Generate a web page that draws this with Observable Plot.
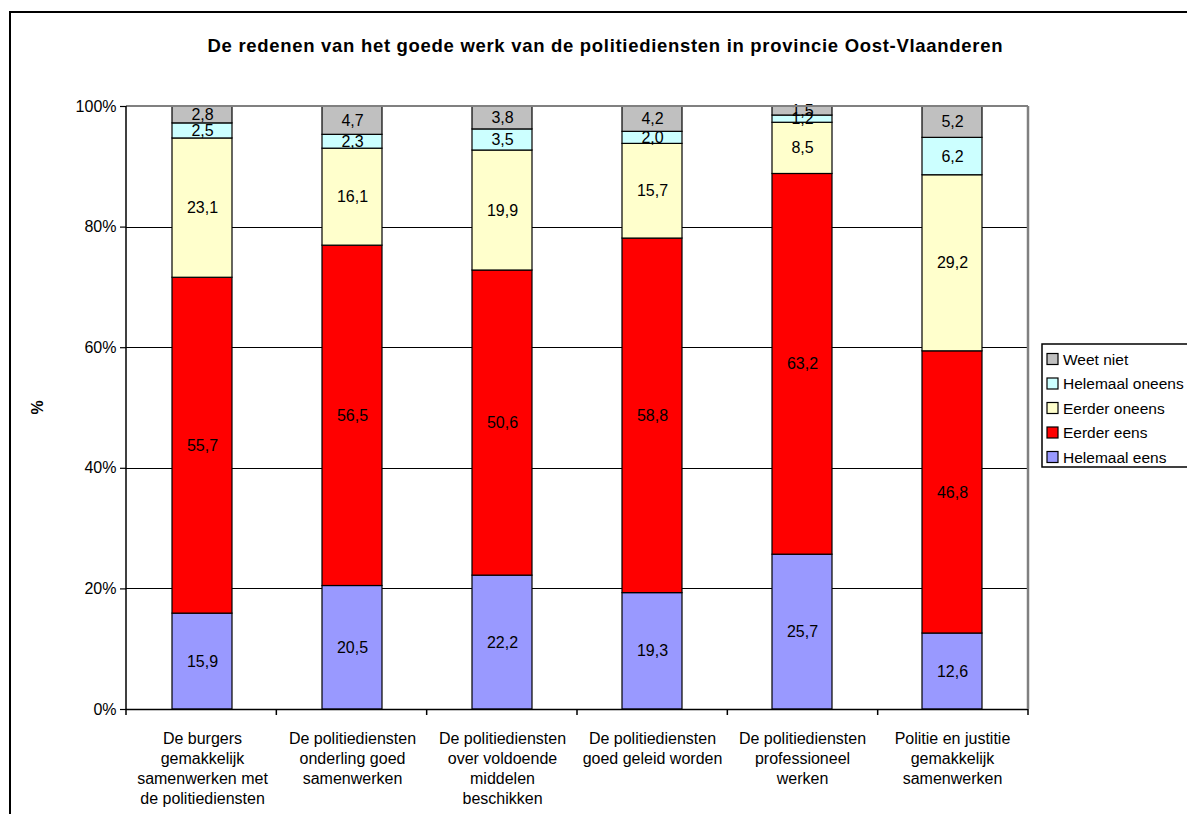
<!DOCTYPE html>
<html>
<head>
<meta charset="utf-8">
<script src="https://cdn.jsdelivr.net/npm/d3@7"></script>
<script src="https://cdn.jsdelivr.net/npm/@observablehq/plot@0.6"></script>
<style>
  html, body { margin: 0; padding: 0; background: #fff; }
  body { font-family: "Liberation Sans", Arial, sans-serif; }
  #chart svg { display: block; overflow: visible; }
</style>
</head>
<body>
<div id="chart"></div>
<script>
const title = "De redenen van het goede werk van de politiediensten in provincie Oost-Vlaanderen";
const categories = [
  "De burgers\ngemakkelijk\nsamenwerken met\nde politiediensten",
  "De politiediensten\nonderling goed\nsamenwerken",
  "De politiediensten\nover voldoende\nmiddelen\nbeschikken",
  "De politiediensten\ngoed geleid worden",
  "De politiediensten\nprofessioneel\nwerken",
  "Politie en justitie\ngemakkelijk\nsamenwerken"
];
const series = ["Helemaal eens", "Eerder eens", "Eerder oneens", "Helemaal oneens", "Weet niet"];
const colors = ["#9999FF", "#FF0000", "#FFFFCC", "#CCFFFF", "#C0C0C0"];
const helemaalEens   = [15.9, 20.5, 22.2, 19.3, 25.7, 12.6];
const eerderEens     = [55.7, 56.5, 50.6, 58.8, 63.2, 46.8];
const eerderOneens   = [23.1, 16.1, 19.9, 15.7, 8.5, 29.2];
const helemaalOneens = [2.5, 2.3, 3.5, 2.0, 1.2, 6.2];
const weetNiet       = [2.8, 4.7, 3.8, 4.2, 1.5, 5.2];
const yTicks = [0, 0.2, 0.4, 0.6, 0.8, 1];
const gridTicks = [0.2, 0.4, 0.6, 0.8];

const seriesValues = [helemaalEens, eerderEens, eerderOneens, helemaalOneens, weetNiet];
const data = [];
categories.forEach((cat, i) => {
  series.forEach((s, j) => data.push({cat, series: s, value: seriesValues[j][i]}));
});
const fmt = v => d3.format(".1f")(v).replace(".", ",");

const W = 1187, H = 814;
const font = "Liberation Sans, Arial, sans-serif";

const chart = Plot.plot({
  width: W,
  height: H,
  marginLeft: 126,
  marginRight: 159,
  marginTop: 106,
  marginBottom: 105,
  style: {fontFamily: font, fontSize: "16px", color: "#000", background: "#fff"},
  x: {domain: categories, paddingInner: 0.6, paddingOuter: 0.3, label: null},
  y: {domain: [0, 1], label: null},
  color: {domain: series, range: colors},
  marks: [
    Plot.ruleY(gridTicks, {stroke: "#000", strokeWidth: 1, shapeRendering: "crispEdges"}),
    Plot.barY(data, Plot.stackY({offset: "normalize", x: "cat", y: "value", fill: "series", stroke: "#000", strokeWidth: 1.2})),
    Plot.text(data, Plot.stackY({offset: "normalize", x: "cat", y: "value", z: "series", text: d => fmt(d.value), fill: "#000", fontSize: 16})),
    Plot.axisY({ticks: yTicks, tickFormat: d3.format(".0%"), tickSize: 6, tickPadding: 4, fontSize: 16, stroke: "#000", strokeWidth: 1.2}),
    Plot.axisX({tickSize: 0, tickPadding: 20, fontSize: 16, lineHeight: 1.25}),
    Plot.ruleY([0], {stroke: "#000", strokeWidth: 1.5})
  ]
});
document.getElementById("chart").appendChild(chart);

const svg = d3.select(chart);
const xs = chart.scale("x"), ys = chart.scale("y"), cs = chart.scale("color");
const [x0, x1] = xs.range;
const yTop = ys.apply(1), yBot = ys.apply(0);

// plot area border (gray top/right), black axes
svg.append("line").attr("x1", x0).attr("x2", x1).attr("y1", yTop).attr("y2", yTop).attr("stroke", "#808080").attr("stroke-width", 2);
svg.append("line").attr("x1", x1).attr("x2", x1).attr("y1", yTop).attr("y2", yBot).attr("stroke", "#808080").attr("stroke-width", 2.5);
svg.append("line").attr("x1", x0).attr("x2", x0).attr("y1", yTop).attr("y2", yBot).attr("stroke", "#000").attr("stroke-width", 1.5);
// x tick marks at category boundaries
for (let i = 0; i <= categories.length; i++) {
  const xp = x0 + i * (x1 - x0) / categories.length;
  svg.append("line").attr("x1", xp).attr("x2", xp).attr("y1", yBot).attr("y2", yBot + 6).attr("stroke", "#000").attr("stroke-width", 1.5);
}
// outer chart border
svg.append("rect").attr("x", 10).attr("y", 12).attr("width", W).attr("height", H).attr("fill", "none").attr("stroke", "#000").attr("stroke-width", 2);
// title
svg.append("text").attr("x", 605).attr("y", 52).attr("text-anchor", "middle")
  .attr("font-family", font).attr("font-weight", "bold").attr("font-size", 18.5)
  .attr("textLength", 795).attr("lengthAdjust", "spacing").attr("fill", "#000").text(title);
// y label
svg.append("text").attr("transform", `translate(43,${(yTop + yBot) / 2}) rotate(-90)`).attr("text-anchor", "middle")
  .attr("font-family", font).attr("font-weight", "bold").attr("font-size", 16).attr("fill", "#000").text("%");
// legend
const lg = svg.append("g").attr("text-anchor", "start");
lg.append("rect").attr("x", 1042).attr("y", 344).attr("width", 160).attr("height", 123).attr("fill", "#fff").attr("stroke", "#000").attr("stroke-width", 1.5);
const legendOrder = series.slice().reverse();
legendOrder.forEach((s, i) => {
  const cy = 359 + i * 24.5;
  lg.append("rect").attr("x", 1047).attr("y", cy - 5.5).attr("width", 11).attr("height", 11)
    .attr("fill", cs.apply(s)).attr("stroke", "#000").attr("stroke-width", 1.2);
  lg.append("text").attr("x", 1063).attr("y", cy).attr("dy", "0.36em").attr("text-anchor", "start")
    .attr("font-family", font).attr("font-size", 15.5).attr("fill", "#000").text(s);
});
</script>
</body>
</html>
